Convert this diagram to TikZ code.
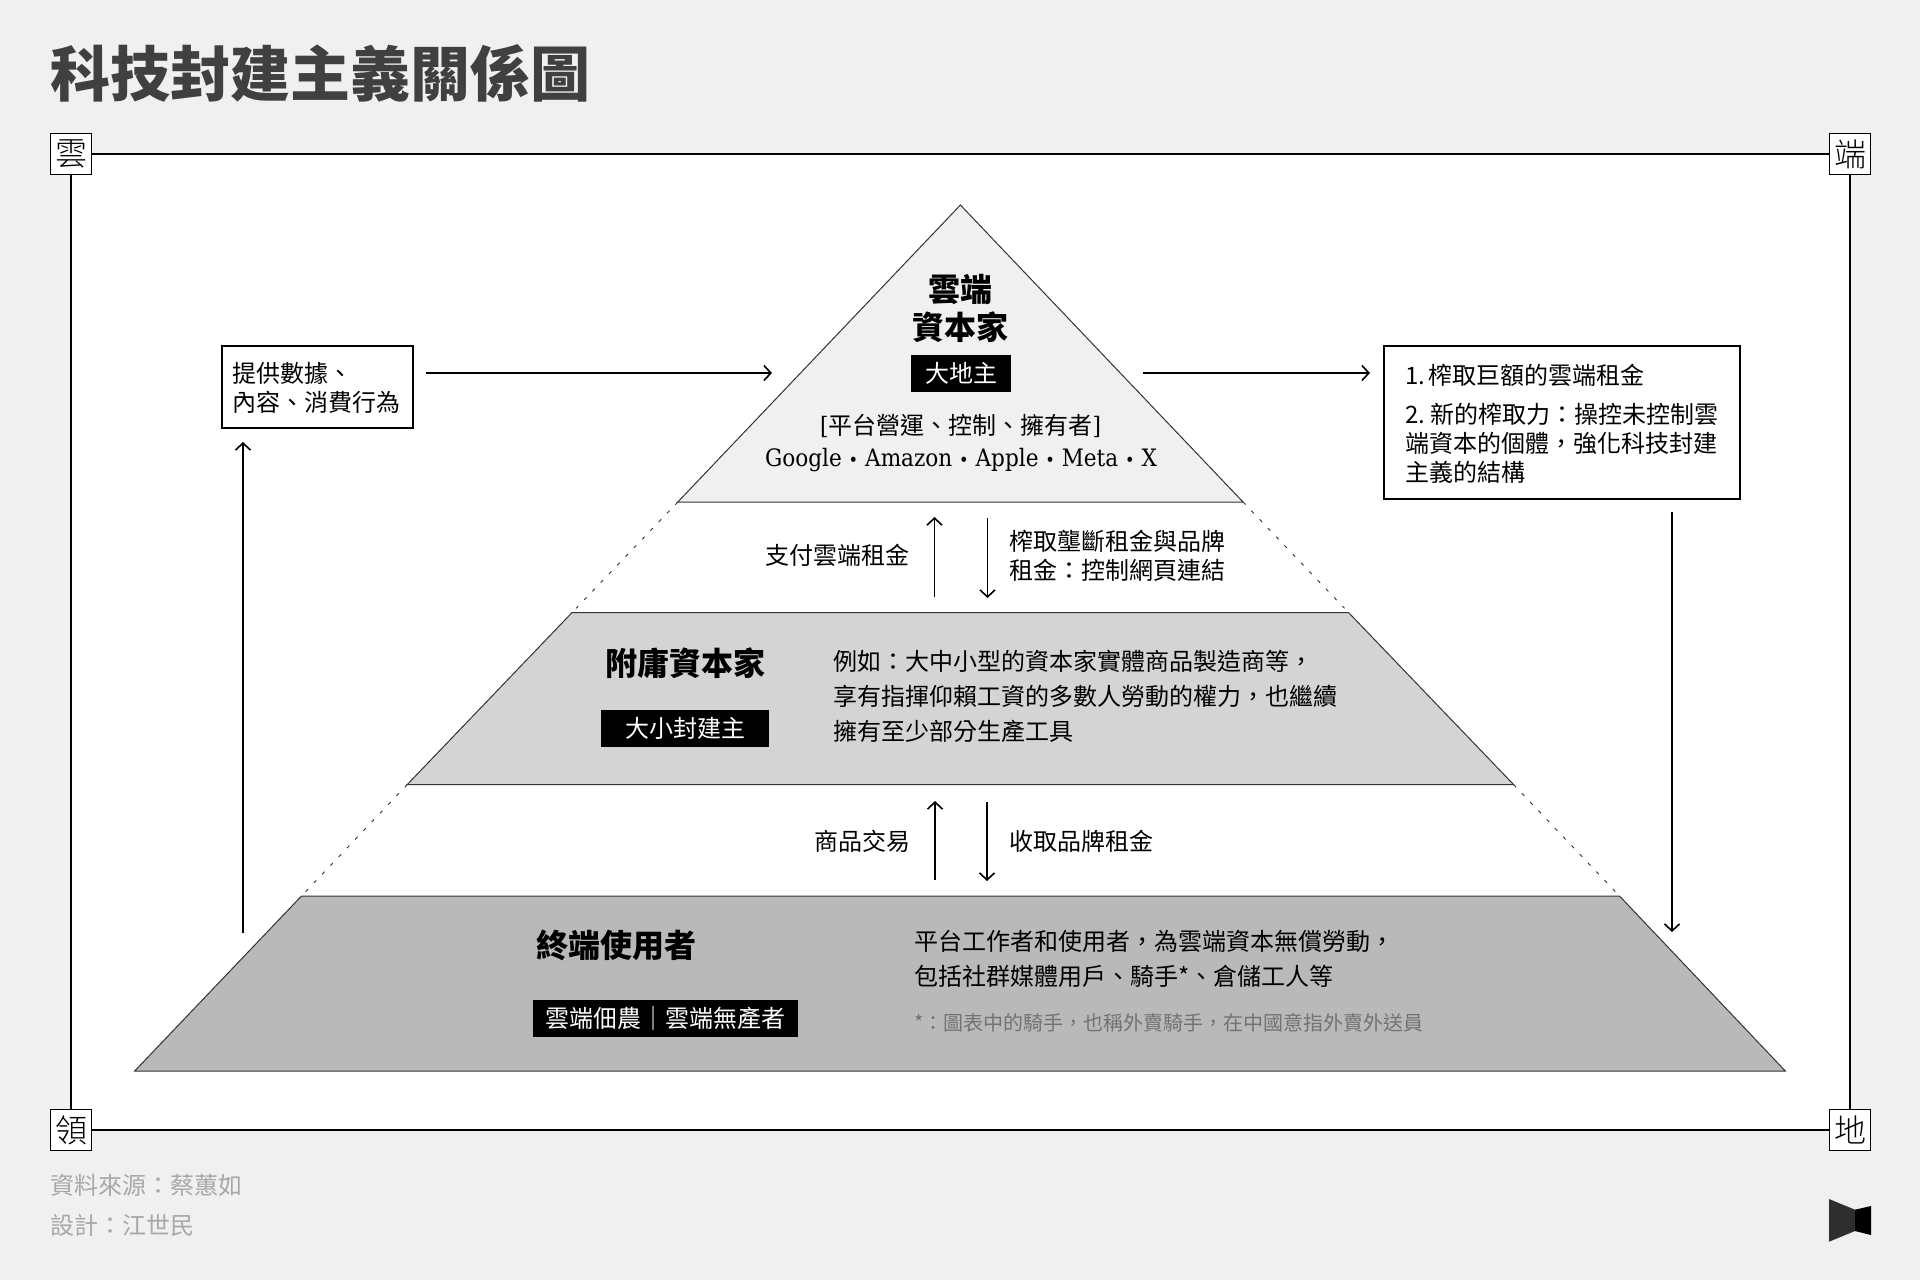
\documentclass[tikz,border=0pt]{standalone}
\usepackage{fontspec}
\usetikzlibrary{arrows.meta}
\setmainfont{Noto Sans CJK TC}
\newfontfamily\slabfont{DejaVu Serif Condensed}
\newfontfamily\lightfont{Noto Sans CJK TC Light}
\newcommand{\firmdot}{{\fontsize{9}{14}\selectfont •}}
\definecolor{bgc}{HTML}{F0F0F0}
\definecolor{midc}{HTML}{D4D4D4}
\definecolor{lowc}{HTML}{B9B9B9}
\definecolor{edgec}{HTML}{333333}
\definecolor{titlec}{HTML}{404040}
\definecolor{notec}{HTML}{727272}
\definecolor{footc}{HTML}{A8A8A8}
\definecolor{logoa}{HTML}{2E2E2E}
\tikzset{
  body/.style={inner sep=0pt,text=black,font=\fontsize{12}{14.5}\selectfont,align=left},
  bodywide/.style={body,font=\fontsize{12}{17.5}\selectfont},
  heading/.style={inner sep=0pt,text=black,align=center,font=\fontsize{16}{19}\selectfont\bfseries},
  tag/.style={fill=black,text=white,inner sep=0pt,font=\fontsize{12}{14}\selectfont},
  corner/.style={draw=black,fill=white,line width=0.6pt,minimum size=20.5pt,inner sep=0pt,font=\fontsize{16}{17}\selectfont\lightfont},
  framel/.style={draw=black,line width=0.55pt},
  level/.style={draw=edgec,line width=0.5pt},
  guide/.style={draw=edgec,line width=0.45pt,dash pattern=on 1.8pt off 4.2pt},
  flow/.style={draw=black,line width=0.8pt,-{Straight Barb[length=3.5pt,width=7.5pt]}},
  sidebox/.style={draw=black,line width=1pt,fill=white,inner sep=0pt},
  foot/.style={inner sep=0pt,text=footc,anchor=west,font=\fontsize{12}{14}\selectfont},
}
\begin{document}
\begin{tikzpicture}[x=0.5pt,y=-0.5pt]
\useasboundingbox (0,0) rectangle (1920,1280);
\fill[bgc] (0,0) rectangle (1920,1280);
% frame
\fill[white] (71.4,154.3) rectangle (1850.3,1129.3);
\node[corner] (cTL) at (71,154) {雲};
\node[corner] (cTR) at (1850,154) {端};
\node[corner] (cBL) at (71,1130) {領};
\node[corner] (cBR) at (1850,1130) {地};
\draw[framel] (cTL) -- (cTR);
\draw[framel] (cTR) -- (cBR);
\draw[framel] (cBR) -- (cBL);
\draw[framel] (cBL) -- (cTL);
% title
\node[inner sep=0pt,anchor=west,text=titlec,font=\fontsize{30}{34}\selectfont\bfseries] (title) at (50,73) {科技封建主義關係圖};
% pyramid
\coordinate (apex) at (960.4,205);
\coordinate (aL) at (677.8,502);
\coordinate (aR) at (1243,502);
\coordinate (bTL) at (572,612.6);
\coordinate (bTR) at (1348.6,612.6);
\coordinate (bBL) at (407.2,784.6);
\coordinate (bBR) at (1513.6,784.6);
\coordinate (cTLp) at (301.5,896);
\coordinate (cTRp) at (1619.5,896);
\coordinate (cBLp) at (134.7,1071);
\coordinate (cBRp) at (1785.3,1071);
\draw[level,fill=bgc] (apex) -- (aR) -- (aL) -- cycle;
\draw[level,fill=midc] (bTL) -- (bTR) -- (bBR) -- (bBL) -- cycle;
\draw[level,fill=lowc] (cTLp) -- (cTRp) -- (cBRp) -- (cBLp) -- cycle;
\draw[guide,shorten >=3pt] (aL) -- (bTL);
\draw[guide,shorten >=3pt] (aR) -- (bTR);
\draw[guide,shorten >=3pt] (bBL) -- (cTLp);
\draw[guide,shorten >=3pt] (bBR) -- (cTRp);
% top level
\node[heading] (cloud) at (960.5,308) {雲端\\資本家};
\node[tag,minimum width=50.3pt,minimum height=18.3pt] (lord) at (961,373.5) {大地主};
\node[body,align=center] (owners) at (960.5,426) {{\slabfont[}平台營運、控制、擁有者{\slabfont]}};
\node[inner sep=0pt,text=black,font=\fontsize{12}{14}\selectfont\slabfont] (firms) at (961,460.5) {Google \firmdot{} Amazon \firmdot{} Apple \firmdot{} Meta \firmdot{} X};
% between top and mid
\node[body,anchor=east] (pay) at (910,555.5) {支付雲端租金};
\node[body,anchor=west] (rent) at (1009,555.5) {榨取壟斷租金與品牌\\租金：控制網頁連結};
\coordinate (upAa) at (934.5,597);
\coordinate (upAb) at (934.5,517);
\coordinate (dnAa) at (987.5,518);
\coordinate (dnAb) at (987.5,598);
\draw[flow] (upAa) -- (upAb);
\draw[flow] (dnAa) -- (dnAb);
% mid level
\node[heading] (vassal) at (685,663) {附庸資本家};
\node[tag,minimum width=84.2pt,minimum height=18.5pt] (small) at (685,728.5) {大小封建主};
\node[bodywide,anchor=west] (midtext) at (833.5,696.3) {例如：大中小型的資本家實體商品製造商等，\\享有指揮仰賴工資的多數人勞動的權力，也繼續\\擁有至少部分生產工具};
% between mid and low
\node[body,anchor=east] (trade) at (910.5,841.5) {商品交易};
\node[body,anchor=west] (brand) at (1009,841.5) {收取品牌租金};
\coordinate (upBa) at (935,880);
\coordinate (upBb) at (935,801);
\coordinate (dnBa) at (987,802);
\coordinate (dnBb) at (987,881);
\draw[flow] (upBa) -- (upBb);
\draw[flow] (dnBa) -- (dnBb);
% low level
\node[heading] (endu) at (616,945.5) {終端使用者};
\node[tag,minimum width=132.3pt,minimum height=18.5pt] (serf) at (665.3,1018.8) {雲端佃農｜雲端無產者};
\node[bodywide,anchor=west] (lowtext) at (914,959) {平台工作者和使用者，為雲端資本無償勞動，\\包括社群媒體用戶、騎手*、倉儲工人等};
\node[inner sep=0pt,anchor=west,text=notec,font=\fontsize{10}{12}\selectfont] (note) at (914,1023) {*：圖表中的騎手，也稱外賣騎手，在中國意指外賣外送員};
% side boxes
\node[sidebox,minimum width=95.5pt,minimum height=41pt] (lbox) at (317.5,387) {};
\node[body,anchor=west] (ltext) at (232.5,387.5) {提供數據、\\內容、消費行為};
\node[sidebox,minimum width=178pt,minimum height=76.5pt] (rbox) at (1562,422.5) {};
\node[body,anchor=west] (rtext) at (1405,424) {{\spaceskip=0.7pt 1. 榨取巨額的雲端租金}\\[5pt]{\spaceskip=1.8pt 2. 新的榨取力：操控未控制雲}\\端資本的個體，強化科技封建\\主義的結構};
\coordinate (lStart) at (426,373);
\coordinate (lEnd) at (772,373);
\coordinate (rStart) at (1143,373);
\coordinate (rEnd) at (1370,373);
\coordinate (dStart) at (1672,512);
\coordinate (dEnd) at (1672,932);
\coordinate (uStart) at (243,933);
\coordinate (uEnd) at (243,442);
\draw[flow] (lStart) -- (lEnd);
\draw[flow] (rStart) -- (rEnd);
\draw[flow] (dStart) -- (dEnd);
\draw[flow] (uStart) -- (uEnd);
% footer
\node[foot] (src) at (50.5,1185.5) {資料來源：蔡蕙如};
\node[foot] (des) at (50.5,1225.5) {設計：江世民};
% logo
\fill[logoa] (1829,1199) -- (1855,1209.7) -- (1855,1231) -- (1829,1241.7) -- cycle;
\fill[black] (1855,1209.7) -- (1871,1206) -- (1871,1235) -- (1855,1231) -- cycle;
\end{tikzpicture}
\end{document}
